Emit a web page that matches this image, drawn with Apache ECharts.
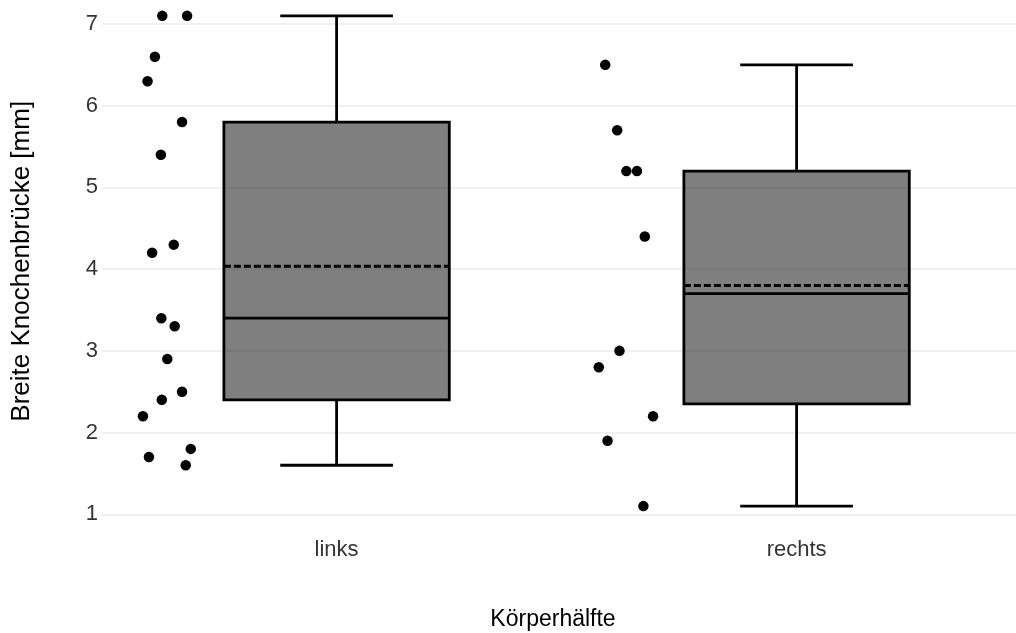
<!DOCTYPE html>
<html>
<head>
<meta charset="utf-8">
<script src="https://cdn.jsdelivr.net/npm/echarts@6/dist/echarts.min.js"></script>
<style>
  html, body { margin: 0; padding: 0; background: #fff; }
  #chart { width: 1016px; height: 633px; }
</style>
</head>
<body>
<div id="chart"></div>
<script>
// Measurements per body side (mm)
const categories = ['links', 'rechts'];
const linksValues = [7.1, 7.1, 6.6, 6.3, 5.8, 5.4, 4.3, 4.2, 3.4, 3.3, 2.9, 2.5, 2.4, 2.2, 1.8, 1.7, 1.6];
const rechtsValues = [6.5, 5.7, 5.2, 5.2, 4.4, 3.0, 2.8, 2.2, 1.9, 1.1];
// Horizontal jitter of each raw point, in category units relative to the group centre
const linksJitter = [-0.379, -0.325, -0.395, -0.411, -0.336, -0.382, -0.354, -0.401, -0.381, -0.352, -0.368, -0.336, -0.380, -0.421, -0.317, -0.408, -0.328];
const rechtsJitter = [-0.416, -0.390, -0.370, -0.347, -0.330, -0.385, -0.430, -0.312, -0.411, -0.333];
const yTicks = [1, 2, 3, 4, 5, 6, 7];

const groups = [linksValues, rechtsValues];
const jitters = [linksJitter, rechtsJitter];

// Quantile (linear interpolation, R type 7)
function quantile(sorted, p) {
  const h = (sorted.length - 1) * p;
  const lo = Math.floor(h);
  const hi = Math.ceil(h);
  return sorted[lo] + (h - lo) * (sorted[hi] - sorted[lo]);
}

// Box statistics: [x, q1, median, q3, lowerWhisker, upperWhisker, mean]
const boxData = groups.map(function (vals, i) {
  const s = vals.slice().sort(function (a, b) { return a - b; });
  const q1 = quantile(s, 0.25), med = quantile(s, 0.5), q3 = quantile(s, 0.75);
  const iqr = q3 - q1;
  const inside = s.filter(function (v) { return v >= q1 - 1.5 * iqr && v <= q3 + 1.5 * iqr; });
  const mean = s.reduce(function (a, b) { return a + b; }, 0) / s.length;
  return [i + 1, q1, med, q3, inside[0], inside[inside.length - 1], mean];
});

const pointData = [];
groups.forEach(function (vals, i) {
  vals.forEach(function (v, k) { pointData.push([i + 1 + jitters[i][k], v]); });
});

const BOX_WIDTH = 0.49;
const LW = 2.8;

function renderBox(params, api) {
  const x = api.value(0);
  const pQ1 = api.coord([x, api.value(1)]);
  const pMed = api.coord([x, api.value(2)]);
  const pQ3 = api.coord([x, api.value(3)]);
  const pLo = api.coord([x, api.value(4)]);
  const pHi = api.coord([x, api.value(5)]);
  const pMean = api.coord([x, api.value(6)]);
  const half = api.size([BOX_WIDTH, 0])[0] / 2;
  const cx = pMed[0];
  const lineStyle = { stroke: '#000', lineWidth: LW };
  return {
    type: 'group',
    children: [
      { type: 'line', shape: { x1: cx, y1: pQ3[1], x2: cx, y2: pHi[1] }, style: lineStyle },
      { type: 'line', shape: { x1: cx, y1: pQ1[1], x2: cx, y2: pLo[1] }, style: lineStyle },
      { type: 'line', shape: { x1: cx - half / 2, y1: pHi[1], x2: cx + half / 2, y2: pHi[1] }, style: lineStyle },
      { type: 'line', shape: { x1: cx - half / 2, y1: pLo[1], x2: cx + half / 2, y2: pLo[1] }, style: lineStyle },
      {
        type: 'rect',
        shape: { x: cx - half, y: pQ3[1], width: half * 2, height: pQ1[1] - pQ3[1] },
        style: { fill: 'rgba(0,0,0,0.5)', stroke: '#000', lineWidth: LW }
      },
      { type: 'line', shape: { x1: cx - half, y1: pMed[1], x2: cx + half, y2: pMed[1] }, style: lineStyle },
      {
        type: 'line',
        shape: { x1: cx - half, y1: pMean[1], x2: cx + half, y2: pMean[1] },
        style: { stroke: '#000', lineWidth: LW, lineDash: [7, 3] }
      }
    ]
  };
}

const chart = echarts.init(document.getElementById('chart'), null, { renderer: 'canvas' });
chart.setOption({
  animation: false,
  backgroundColor: '#ffffff',
  textStyle: { fontFamily: 'Liberation Sans, Arial, sans-serif' },
  grid: {
    left: 102, right: 0, top: 0, bottom: 102.4,
    containLabel: false,
    outerBoundsMode: 'none'
  },
  xAxis: {
    type: 'value',
    min: 0.49,
    max: 2.477,
    name: 'Körperhälfte',
    nameLocation: 'middle',
    nameGap: 78,
    nameTextStyle: { fontSize: 23, color: '#000', padding: [0, 12, 0, 0] },
    axisLine: { show: false },
    axisTick: { show: false, customValues: [1, 2] },
    splitLine: { show: false },
    axisLabel: {
      customValues: [1, 2],
      formatter: function (v) { return categories[Math.round(v) - 1]; },
      fontSize: 22,
      color: '#333333',
      margin: 8
    }
  },
  yAxis: {
    type: 'value',
    min: 0.8,
    max: 7.294,
    name: 'Breite Knochenbrücke [mm]',
    nameLocation: 'middle',
    nameGap: 67,
    nameTextStyle: { fontSize: 26, color: '#000', padding: [0, 0, 0, 8] },
    axisLine: { show: false },
    axisTick: { show: false, customValues: yTicks },
    axisLabel: { customValues: yTicks, fontSize: 22, color: '#333333', margin: 4 },
    splitLine: { show: true, lineStyle: { color: '#ebebeb', width: 1.5 } }
  },
  series: [
    {
      type: 'custom',
      renderItem: renderBox,
      data: boxData,
      encode: { x: 0, y: [1, 2, 3, 4, 5, 6] },
      z: 2,
      clip: false
    },
    {
      type: 'scatter',
      data: pointData,
      symbolSize: 10.5,
      itemStyle: { color: '#000', opacity: 1 },
      z: 3
    }
  ]
});
</script>
</body>
</html>
